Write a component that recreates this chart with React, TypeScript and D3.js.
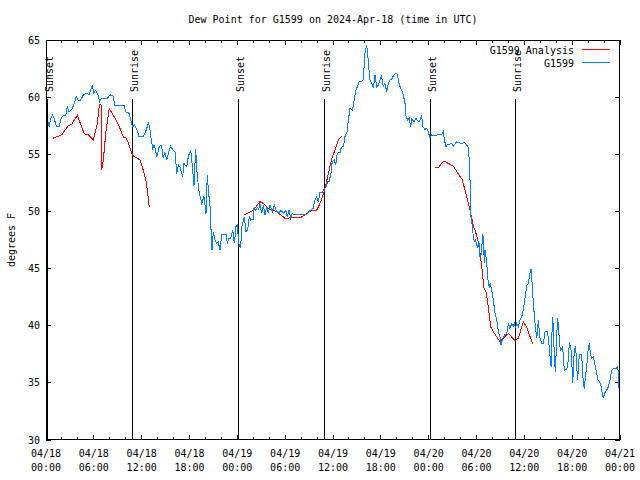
import React from "react";
import * as d3 from "d3";

const TITLE = "Dew Point for G1599 on 2024-Apr-18 (time in UTC)";
const Y_LABEL = "degrees F";
const START = Date.UTC(2024, 3, 18, 0, 0);
const END = Date.UTC(2024, 3, 21, 0, 0);
const Y_DOMAIN: [number, number] = [30, 65];
const Y_TICKS = [30, 35, 40, 45, 50, 55, 60, 65];

// [hours since 04/18 00:00 UTC, dew point F]
const analysisNight1: [number, number][] = [
  [0.84, 56.4], [1.97, 56.7], [2.8, 57.5], [3.2, 57.6], [3.93, 58.4], [4.8, 56.8], [5.3, 56.7],
  [5.94, 56.25], [6.44, 57.7], [6.69, 59.3], [6.9, 59.4], [6.98, 53.6], [7.19, 54.5], [7.53, 57.1],
  [7.94, 59.0], [8.66, 58.15], [9.2, 57.4], [9.7, 56.5], [10.1, 56.4], [10.62, 55.4], [10.87, 54.9],
  [11.8, 54.5], [12.2, 53.6], [12.6, 52.5], [12.8, 51.3], [12.96, 50.35],
];
const analysisNight2: [number, number][] = [
  [24.88, 49.7], [26.0, 50.1], [26.84, 50.85], [27.26, 50.7], [27.9, 50.27], [28.94, 49.98],
  [29.98, 49.4], [31.0, 49.45], [32.0, 49.48], [32.7, 49.8], [33.24, 50.07], [33.95, 50.1],
  [34.37, 50.7], [34.87, 51.67], [35.33, 53.04], [35.8, 54.5], [36.25, 55.4], [36.67, 56.25], [37.09, 56.6],
];
const analysisNight3: [number, number][] = [
  [48.8, 53.83], [49.2, 53.8], [49.6, 54.2], [49.97, 54.4], [50.47, 54.2], [51.1, 53.97], [51.7, 53.3],
  [52.2, 52.8], [52.77, 51.3], [53.19, 50.1], [53.7, 48.5], [53.81, 48.4], [54.2, 47.4], [54.44, 46.33],
  [54.65, 45.2], [54.94, 43.3], [55.19, 43.0], [55.48, 41.67], [55.78, 39.9], [56.11, 39.48],
  [56.53, 39.04], [56.95, 38.6], [57.37, 38.9], [58.0, 39.33], [58.83, 38.7], [59.25, 38.9],
  [59.87, 40.35], [60.3, 39.85], [61.05, 38.4],
];
const stationObs: [number, number][] = [
  [0.25, 57.8], [0.4, 57.4], [0.55, 58.0], [0.8, 58.44], [1.0, 58.15], [1.34, 57.4], [1.63, 57.4],
  [1.92, 58.15], [2.17, 58.4], [2.47, 58.4], [2.68, 59.2], [2.88, 58.7], [3.3, 59.0], [3.6, 59.6],
  [3.8, 60.04], [4.0, 59.75], [4.35, 59.75], [4.68, 60.2], [5.1, 60.34], [5.4, 60.2], [5.6, 60.6],
  [5.8, 61.0], [6.0, 60.34], [6.23, 60.6], [6.52, 60.2], [6.73, 59.6], [6.94, 59.9], [7.7, 59.9],
  [8.03, 60.2], [8.45, 60.1], [8.6, 59.3], [9.8, 59.3], [10.0, 58.7], [10.4, 58.6], [10.7, 57.85],
  [10.83, 57.4], [11.1, 57.56], [11.45, 57.1], [11.67, 56.54], [12.2, 56.54], [12.5, 56.98],
  [12.84, 57.7], [13.0, 57.4], [13.2, 56.25], [13.4, 55.5], [13.55, 55.8], [13.7, 55.5], [13.9, 54.8],
  [14.2, 55.67], [14.5, 55.8], [14.7, 54.65], [14.9, 55.2], [15.14, 54.5], [15.35, 55.1], [15.64, 55.7],
  [15.9, 55.4], [16.2, 55.2], [16.4, 53.3], [16.6, 54.06], [16.8, 53.9], [17.15, 53.04], [17.3, 54.2],
  [17.65, 53.9], [17.85, 54.8], [18.15, 55.4], [18.4, 53.6], [18.56, 52.2], [18.77, 55.5], [18.98, 53.04],
  [19.23, 51.6], [19.53, 50.7], [19.82, 51.3], [20.07, 49.8], [20.23, 53.2], [20.4, 51.6], [20.57, 50.56],
  [20.66, 48.4], [20.7, 48.4], [20.82, 46.6], [20.99, 48.2], [21.2, 47.5], [21.4, 47.2], [21.6, 47.35],
  [21.83, 46.6], [22.04, 48.0], [22.58, 48.0], [22.74, 47.2], [22.96, 47.65], [23.17, 47.65],
  [23.42, 48.4], [23.63, 47.2], [23.83, 48.67], [24.0, 48.8], [24.17, 47.2], [24.42, 46.8], [24.55, 48.67],
  [24.88, 49.5], [25.09, 48.2], [25.3, 48.4], [25.5, 49.54], [25.68, 49.25], [26.0, 49.3], [26.1, 50.4],
  [26.3, 50.1], [26.5, 50.36], [26.68, 50.2], [26.84, 50.7], [27.05, 49.84], [27.26, 50.56], [27.47, 49.7],
  [27.68, 50.4], [27.9, 49.84], [28.1, 50.56], [28.4, 49.98], [28.64, 50.56], [28.85, 50.1], [29.14, 49.84],
  [29.48, 50.1], [29.77, 49.84], [30.07, 50.1], [30.27, 49.54], [30.48, 50.1], [30.69, 49.4], [30.9, 49.84],
  [31.15, 49.7], [31.3, 49.77], [32.7, 49.77], [33.1, 50.07], [33.5, 50.27], [33.74, 51.0], [33.95, 51.3],
  [34.16, 50.85], [34.37, 51.7], [34.7, 51.7], [34.9, 52.0], [35.12, 52.17], [35.33, 52.6], [35.5, 52.6],
  [35.75, 53.34], [35.9, 54.35], [36.17, 54.5], [36.34, 54.06], [36.5, 54.94], [36.67, 55.2], [36.88, 55.1],
  [37.0, 55.5], [37.17, 55.7], [37.3, 55.67], [37.5, 56.54], [37.76, 56.98], [37.93, 58.0], [38.13, 59.0],
  [38.43, 58.87], [38.63, 59.6], [38.85, 60.6], [39.05, 60.9], [39.26, 61.35], [39.5, 61.35], [39.8, 61.5],
  [39.93, 62.96], [40.0, 63.83], [40.23, 64.56], [40.35, 63.83], [40.48, 62.67], [40.64, 61.5],
  [40.86, 61.2], [41.06, 60.77], [41.27, 61.94], [41.48, 60.9], [41.68, 61.06], [41.9, 61.5], [42.1, 61.85],
  [42.3, 60.9], [42.52, 61.2], [42.73, 60.48], [42.93, 61.2], [43.15, 61.5], [43.36, 61.56], [43.56, 61.85],
  [43.86, 62.1], [44.07, 62.0], [44.32, 61.06], [44.62, 60.6], [44.82, 60.2], [45.03, 59.46], [45.16, 58.3],
  [45.37, 58.0], [45.57, 58.15], [45.75, 57.4], [45.87, 58.06], [46.16, 57.85], [46.41, 58.15],
  [46.7, 57.85], [46.9, 57.94], [47.13, 58.44], [47.25, 57.4], [47.54, 57.18], [47.75, 57.27],
  [47.95, 56.98], [48.17, 56.4], [48.38, 56.7], [48.58, 56.63], [49.21, 56.7], [49.63, 56.7],
  [49.84, 56.98], [49.97, 56.25], [50.18, 55.67], [50.34, 55.9], [50.68, 55.9], [50.9, 55.96],
  [51.1, 55.72], [51.5, 56.1], [51.9, 56.0], [52.14, 55.9], [52.43, 56.05], [52.65, 55.96], [52.77, 55.8],
  [52.98, 55.6], [53.06, 54.8], [53.19, 52.75], [53.31, 49.54], [53.48, 48.67], [53.6, 47.8],
  [53.73, 47.35], [53.9, 47.5], [54.02, 47.06], [54.15, 46.9], [54.3, 47.35], [54.44, 46.04],
  [54.65, 46.33], [54.73, 47.94], [54.86, 47.8], [54.98, 45.46], [55.07, 46.63], [55.19, 46.04],
  [55.32, 45.17], [55.48, 43.71], [55.6, 43.42], [55.73, 43.71], [55.9, 43.13], [56.11, 42.25],
  [56.32, 41.08], [56.53, 40.5], [56.74, 39.48], [56.95, 39.04], [57.07, 38.3], [57.24, 38.75],
  [57.49, 39.19], [57.79, 39.33], [58.0, 40.2], [58.2, 39.77], [58.42, 40.2], [58.6, 39.92], [58.74, 40.2],
  [58.91, 39.77], [59.03, 40.2], [59.24, 39.92], [59.46, 40.5], [59.67, 40.78], [59.87, 41.37],
  [60.0, 41.96], [60.17, 42.83], [60.33, 43.56], [60.5, 43.71], [60.71, 44.58], [60.84, 45.0],
  [60.96, 43.85], [61.13, 41.96], [61.34, 40.2], [61.56, 38.9], [61.76, 40.5], [61.93, 39.04],
  [62.18, 38.46], [62.4, 38.46], [62.6, 39.48], [62.9, 39.48], [63.02, 38.9], [63.23, 37.3],
  [63.35, 36.42], [63.48, 39.62], [63.56, 40.78], [63.64, 39.62], [63.77, 37.3], [63.89, 35.98],
  [64.06, 38.75], [64.15, 40.65], [64.31, 39.92], [64.4, 38.3], [64.56, 37.88], [64.81, 38.17],
  [64.9, 37.15], [65.02, 36.12], [65.32, 36.18], [65.52, 37.0], [65.65, 38.6], [65.73, 38.3],
  [65.86, 37.88], [65.98, 36.42], [66.07, 34.97], [66.19, 36.7], [66.27, 37.88], [66.44, 38.17],
  [66.57, 36.42], [66.69, 35.25], [66.82, 36.7], [66.9, 37.44], [67.2, 37.44], [67.27, 36.42],
  [67.4, 34.97], [67.53, 34.5], [67.7, 35.83], [67.83, 36.26], [67.9, 37.3], [68.03, 38.03],
  [68.16, 38.46], [68.28, 37.6], [68.45, 37.15], [68.66, 37.3], [68.87, 36.56], [69.08, 35.83],
  [69.21, 35.25], [69.42, 35.1], [69.6, 34.8], [69.77, 34.1], [69.9, 33.65], [70.08, 34.1],
  [70.33, 34.37], [70.54, 34.66], [70.75, 35.25], [70.96, 36.12], [71.17, 36.26], [71.59, 36.26],
  [71.68, 36.47], [71.8, 35.83], [71.93, 33.65],
];

// [label, hours since 04/18 00:00 UTC]
const sunEvents: [string, number][] = [
  ["Sunset", 0.1], ["Sunrise", 10.85], ["Sunset", 24.12],
  ["Sunrise", 34.9], ["Sunset", 48.2], ["Sunrise", 58.87],
];

const SERIES_NAMES = ["G1599 Analysis", "G1599"];
const SERIES_COLORS = ["#ff0000", "#0080ff"];

const W = 640, H = 480;
const M = { left: 46, right: 20, top: 40, bottom: 40 };
const FONT = "'DejaVu Sans Mono', monospace";

const hToDate = (h: number) => new Date(START + h * 3600 * 1000);

export default function App() {
  const x = d3.scaleUtc().domain([new Date(START), new Date(END)]).range([M.left, W - M.right]);
  const y = d3.scaleLinear().domain(Y_DOMAIN).range([H - M.bottom, M.top]);
  const line = d3.line<[number, number]>().x((d) => x(hToDate(d[0]))).y((d) => y(d[1]));

  const majorTicks = x.ticks(d3.utcHour.every(6)!);
  const minorTicks = x.ticks(d3.utcHour.every(2)!).filter((t) => t.getUTCHours() % 6 !== 0);
  const fmtDate = d3.utcFormat("%m/%d");
  const fmtTime = d3.utcFormat("%H:%M");
  const x0 = M.left, x1 = W - M.right, y0 = H - M.bottom, y1 = M.top;

  return (
    <svg width={W} height={H} style={{ display: "block", position: "absolute", left: 0, top: 0, background: "#fff" }}
      fontFamily={FONT} fontSize={10}>
      <rect x={0} y={0} width={W} height={H} fill="#fff" />
      <text x={(x0 + x1) / 2} y={23} textAnchor="middle">{TITLE}</text>
      {/* y ticks */}
      {Y_TICKS.map((v) => (
        <g key={"y" + v}>
          <line x1={x0} x2={x0 + 5} y1={y(v)} y2={y(v)} stroke="#000" shapeRendering="crispEdges" />
          <line x1={x1 - 5} x2={x1} y1={y(v)} y2={y(v)} stroke="#000" shapeRendering="crispEdges" />
          <text x={x0 - 6} y={y(v)} dy="0.35em" textAnchor="end">{v}</text>
        </g>
      ))}
      {/* x ticks */}
      {minorTicks.map((t, i) => (
        <g key={"mx" + i} shapeRendering="crispEdges">
          <line x1={x(t)} x2={x(t)} y1={y0} y2={y0 - 3} stroke="#000" />
          <line x1={x(t)} x2={x(t)} y1={y1} y2={y1 + 3} stroke="#000" />
        </g>
      ))}
      {majorTicks.map((t, i) => (
        <g key={"x" + i}>
          <line x1={x(t)} x2={x(t)} y1={y0} y2={y0 - 5} stroke="#000" shapeRendering="crispEdges" />
          <line x1={x(t)} x2={x(t)} y1={y1} y2={y1 + 5} stroke="#000" shapeRendering="crispEdges" />
          <text x={x(t)} y={457} textAnchor="middle">{fmtDate(t)}</text>
          <text x={x(t)} y={471} textAnchor="middle">{fmtTime(t)}</text>
        </g>
      ))}
      <text transform={`translate(15,240) rotate(-90)`} textAnchor="middle">{Y_LABEL}</text>
      {/* sun events */}
      {sunEvents.map(([label, h], i) => {
        const sx = Math.round(x(hToDate(h))) + 0.5;
        return (
          <g key={"s" + i}>
            <line x1={sx} x2={sx} y1={99} y2={y0} stroke="#000" />
            <text transform={`translate(${sx + 5},92) rotate(-90)`} textAnchor="start">{label}</text>
          </g>
        );
      })}
      {/* data */}
      {[analysisNight1, analysisNight2, analysisNight3].map((seg, i) => (
        <path key={"a" + i} d={line(seg) || ""} fill="none" stroke={SERIES_COLORS[0]} strokeWidth={1} shapeRendering="crispEdges" />
      ))}
      <path d={line(stationObs) || ""} fill="none" stroke={SERIES_COLORS[1]} strokeWidth={1} shapeRendering="crispEdges" />
      {/* border */}
      <rect x={x0 + 0.5} y={y1 + 0.5} width={x1 - x0 - 1} height={y0 - y1 - 1} fill="none" stroke="#000" />
      {/* legend */}
      {SERIES_NAMES.map((n, i) => (
        <g key={"l" + i}>
          <text x={574} y={50 + i * 13} dy="0.35em" textAnchor="end">{n}</text>
          <line x1={582} x2={610} y1={49.5 + i * 13} y2={49.5 + i * 13} stroke={SERIES_COLORS[i]} />
        </g>
      ))}
    </svg>
  );
}
